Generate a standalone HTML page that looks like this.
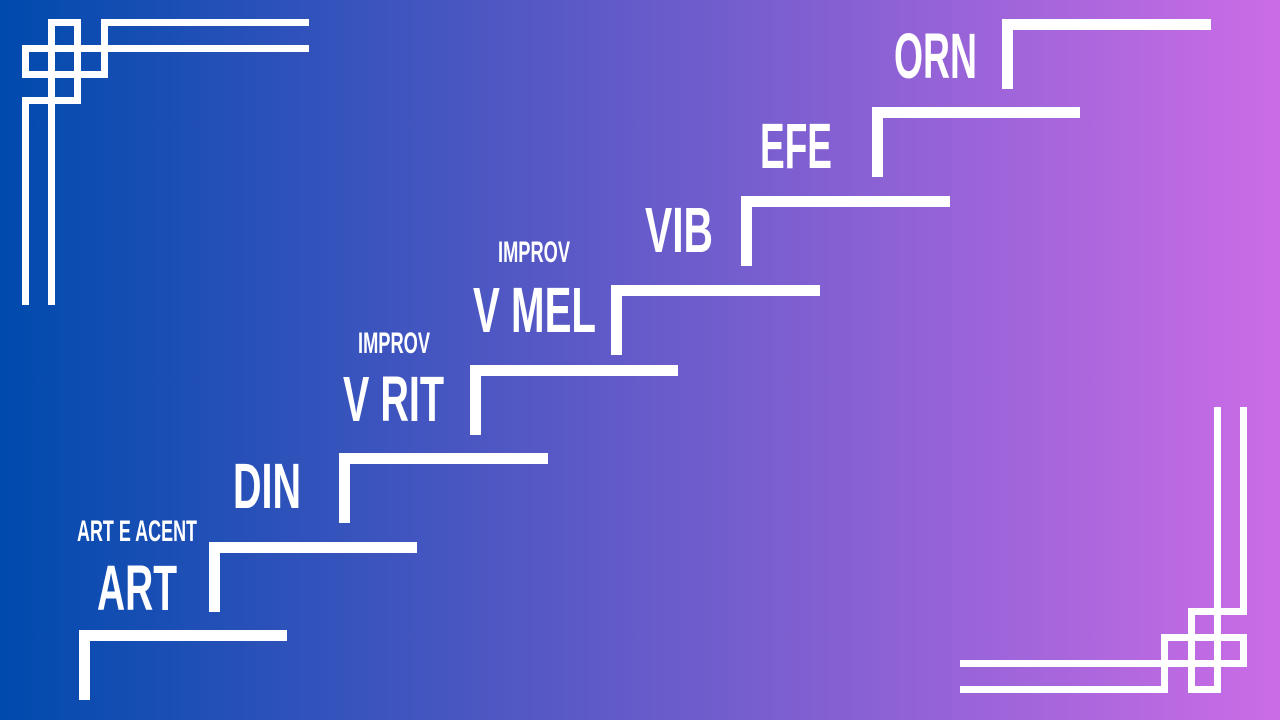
<!DOCTYPE html>
<html><head><meta charset="utf-8"><style>
html,body{margin:0;padding:0;width:1280px;height:720px;overflow:hidden}
body{background:linear-gradient(90deg,#004aad 0%,#cb6ce6 100%)}
svg{position:absolute;left:0;top:0}
text{font-family:"Liberation Sans Narrow","Liberation Sans",sans-serif;font-weight:bold;fill:#fff}
</style></head><body>
<svg width="1280" height="720" viewBox="0 0 1280 720">
<g fill="none" stroke="#fff" stroke-width="7" stroke-linejoin="miter" stroke-linecap="butt">
 <g id="c">
  <polyline points="309,22.5 104.5,22.5 104.5,74.5 25.5,74.5 25.5,48.5 309,48.5"/>
  <polyline points="51.5,305 51.5,22.5 77.5,22.5 77.5,100.5 25.5,100.5 25.5,305"/>
 </g>
 <g transform="translate(1269,712) rotate(180)">
  <polyline points="309,22.5 104.5,22.5 104.5,74.5 25.5,74.5 25.5,48.5 309,48.5"/>
  <polyline points="51.5,305 51.5,22.5 77.5,22.5 77.5,100.5 25.5,100.5 25.5,305"/>
 </g>
</g>
<g fill="none" stroke="#fff" stroke-width="11">
 <polyline points="84.5,700 84.5,635.5 287,635.5"/>
 <polyline points="214.5,612 214.5,547.5 417,547.5"/>
 <polyline points="344.5,523 344.5,458.5 548,458.5"/>
 <polyline points="475.5,435 475.5,370.5 678,370.5"/>
 <polyline points="616.5,355 616.5,290.5 820,290.5"/>
 <polyline points="746.5,266 746.5,201.5 950,201.5"/>
 <polyline points="877.5,177 877.5,112.5 1080,112.5"/>
 <polyline points="1007.5,89 1007.5,24.5 1211,24.5"/>
</g>
<g>
 <text x="97" y="610" font-size="64" textLength="80" lengthAdjust="spacingAndGlyphs">ART</text>
 <text x="77" y="541" font-size="30" textLength="120" lengthAdjust="spacingAndGlyphs">ART E ACENT</text>
 <text x="233" y="508" font-size="64" textLength="68" lengthAdjust="spacingAndGlyphs">DIN</text>
 <text x="343" y="421" font-size="64" textLength="101" lengthAdjust="spacingAndGlyphs">V RIT</text>
 <text x="358" y="353" font-size="30" textLength="72" lengthAdjust="spacingAndGlyphs">IMPROV</text>
 <text x="473" y="332" font-size="64" textLength="123" lengthAdjust="spacingAndGlyphs">V MEL</text>
 <text x="498" y="262" font-size="30" textLength="72" lengthAdjust="spacingAndGlyphs">IMPROV</text>
 <text x="645" y="252" font-size="64" textLength="68" lengthAdjust="spacingAndGlyphs">VIB</text>
 <text x="760" y="168" font-size="64" textLength="72" lengthAdjust="spacingAndGlyphs">EFE</text>
 <text x="894" y="78" font-size="64" textLength="83" lengthAdjust="spacingAndGlyphs">ORN</text>
</g>
</svg>
</body></html>
